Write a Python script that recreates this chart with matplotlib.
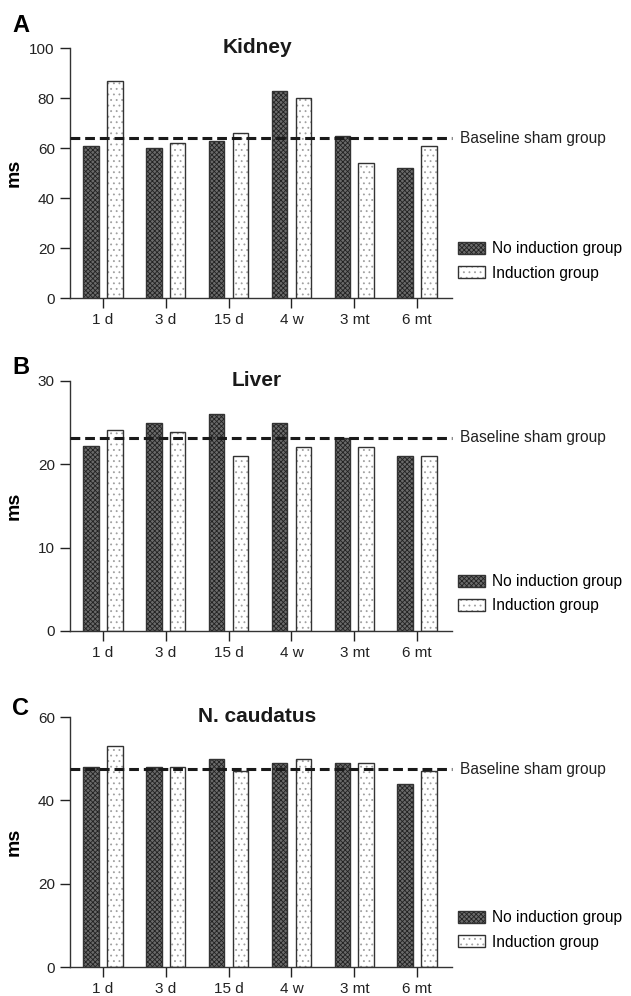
import matplotlib
matplotlib.use("Agg")
import matplotlib.pyplot as plt
import matplotlib.transforms as mtransforms
from matplotlib.patches import Patch
from matplotlib.legend_handler import HandlerTuple
import numpy as np

plt.rcParams['font.family'] = ['Liberation Sans', 'DejaVu Sans']
plt.rcParams['hatch.linewidth'] = 0.6

# --- data ---
timepoints = ["1 d", "3 d", "15 d", "4 w", "3 mt", "6 mt"]

kidney_no_ind = [61, 60, 63, 83, 65, 52]
kidney_ind = [87, 62, 66, 80, 54, 61]
kidney_base = 64

liver_no_ind = [22.2, 25, 26, 25, 23.2, 21]
liver_ind = [24.1, 23.9, 21, 22.1, 22.1, 21]
liver_base = 23.2

caud_no_ind = [48, 48, 50, 49, 49, 44]
caud_ind = [53, 48, 47, 50, 49, 47]
caud_base = 47.5

panels = [
    ("A", "Kidney", kidney_no_ind, kidney_ind, kidney_base, 100, 20),
    ("B", "Liver", liver_no_ind, liver_ind, liver_base, 30, 10),
    ("C", "N. caudatus", caud_no_ind, caud_ind, caud_base, 60, 20),
]

fig = plt.figure(figsize=(6.31, 9.96), dpi=100)
bottoms = [0.7008, 0.3665, 0.0291]
letter_y = [1.092, 1.052, 1.036]
x = np.arange(len(timepoints))
w = 0.25
off = 0.19

dark_fill = dict(facecolor="#6a6a6a", edgecolor="#222222", hatch="xxxxxxx", linewidth=0)
light_fill = dict(facecolor="white", edgecolor="#a0a0a0", hatch="...", linewidth=0)
outline = dict(facecolor="none", edgecolor="#333333", linewidth=1.0)

for (letter, title, no_ind, ind, base, ymax, step), b, ly in zip(panels, bottoms, letter_y):
    ax = fig.add_axes([0.111, b, 0.605, 0.251])

    ax.bar(x - off, no_ind, w, zorder=2, **dark_fill)
    ax.bar(x - off, no_ind, w, zorder=3, **outline)
    ax.bar(x + off, ind, w, zorder=2, **light_fill)
    ax.bar(x + off, ind, w, zorder=3, **outline)

    ax.axhline(base, color="#1a1a1a", linestyle=(0, (3.2, 1.6)), linewidth=2.2,
               zorder=4, clip_on=False)
    trans = mtransforms.blended_transform_factory(ax.transAxes, ax.transData)
    ax.text(1.022, base, "Baseline sham group", transform=trans, fontsize=11.2,
            va="center", ha="left", color="#222222")

    ax.set_xlim(-0.52, 5.55)
    ax.set_ylim(0, ymax)
    ax.set_yticks(np.arange(0, ymax + 1, step))
    ax.set_xticks(x)
    ax.set_xticklabels(timepoints)
    ax.tick_params(axis="both", labelsize=11, colors="#222222", width=1.0,
                   length=7, direction="out", pad=4)
    for s in ["top", "right"]:
        ax.spines[s].set_visible(False)
    for s in ["left", "bottom"]:
        ax.spines[s].set_linewidth(1.0)
        ax.spines[s].set_color("#333333")

    ax.set_ylabel("ms", fontsize=14, fontweight="bold")
    ax.yaxis.set_label_coords(-0.125, 0.5)
    ax.text(0.49, 1.003, title, transform=ax.transAxes, fontsize=15,
            fontweight="bold", ha="center", va="center", color="#1a1a1a")
    ax.text(-0.152, ly, letter, transform=ax.transAxes, fontsize=17,
            fontweight="bold", ha="left", va="center")

    h_dark = (Patch(**dark_fill), Patch(**outline))
    h_light = (Patch(**light_fill), Patch(**outline))
    ax.legend([h_dark, h_light], ["No induction group", "Induction group"],
              handler_map={tuple: HandlerTuple(ndivide=1, pad=0)},
              loc="lower left", bbox_to_anchor=(1.015, 0.07), frameon=False,
              fontsize=11.2, handlelength=1.75, handleheight=0.85,
              handletextpad=0.45, labelspacing=0.6, borderpad=0,
              borderaxespad=0)

fig.savefig("out.png", dpi=100)
